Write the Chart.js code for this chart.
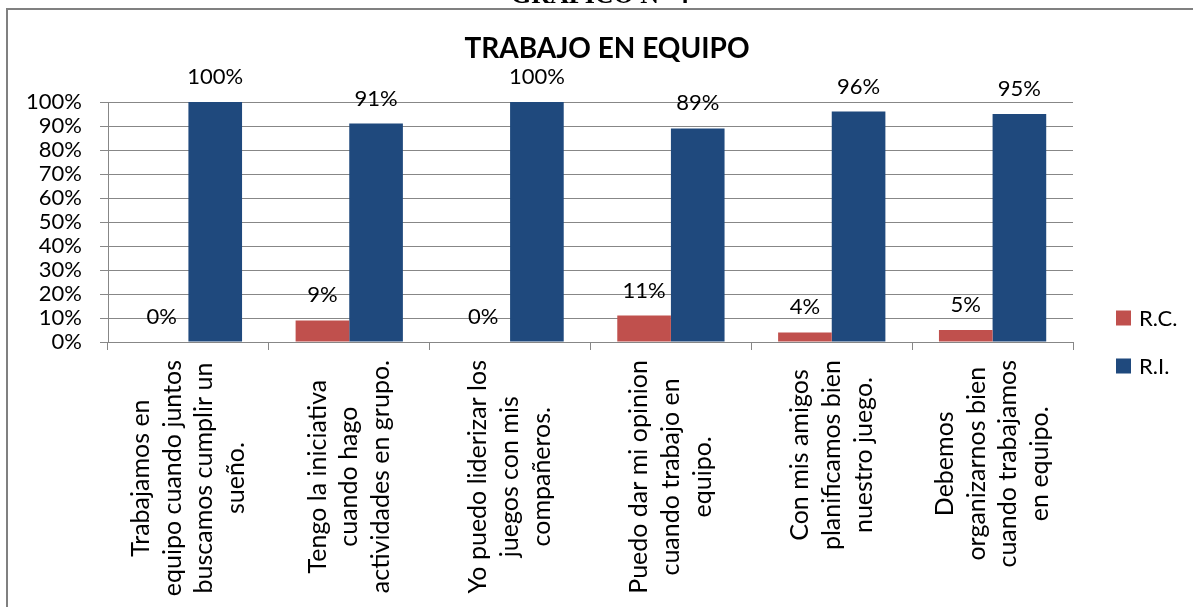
<!DOCTYPE html>
<html><head><meta charset="utf-8">
<script src="https://cdn.jsdelivr.net/npm/chart.js@4.4.0/dist/chart.umd.min.js"></script>
<style>html,body{margin:0;padding:0;background:#fff;}#wrap{width:1193px;height:607px;position:relative;}</style>
</head><body><div id="wrap"><canvas id="c" width="1193" height="607"></canvas></div>
<script>
const heading = "GRAFICO N° 4";
const chartTitle = "TRABAJO EN EQUIPO";
const categories = [
  ["Trabajamos en", "equipo cuando juntos", "buscamos cumplir un", "sueño."],
  ["Tengo la iniciativa", "cuando hago", "actividades en grupo."],
  ["Yo puedo liderizar los", "juegos con mis", "compañeros."],
  ["Puedo dar mi opinion", "cuando trabajo en", "equipo."],
  ["Con mis amigos", "planificamos bien", "nuestro juego."],
  ["Debemos", "organizarnos bien", "cuando trabajamos", "en equipo."]
];
const seriesNames = ["R.C.", "R.I."];
const rcValues = [0, 9, 0, 11, 4, 5];
const riValues = [100, 91, 100, 89, 96, 95];
const yTickValues = [0, 10, 20, 30, 40, 50, 60, 70, 80, 90, 100];

const RED = '#C0504D', BLUE = '#1F497D', GRID = '#878787';
const FONT = 'Lato';

const decor = {
  id: 'decor',
  afterDraw(chart) {
    const ctx = chart.ctx;
    const xs = chart.scales.x, ys = chart.scales.y;
    ctx.save();
    ctx.strokeStyle = '#808080'; ctx.lineWidth = 2;
    ctx.strokeRect(7, 9, 1300, 800);
    ctx.fillStyle = '#000';
    ctx.font = 'bold 26px "Liberation Serif"';
    ctx.textAlign = 'center'; ctx.textBaseline = 'alphabetic';
    ctx.fillText(heading, 600, 3);
    ctx.font = 'bold 28px ' + FONT;
    ctx.fillText(chartTitle, 607, 58);
    ctx.font = '22px ' + FONT;
    chart.data.datasets.forEach((ds, di) => {
      const meta = chart.getDatasetMeta(di);
      meta.data.forEach((bar, i) => {
        ctx.fillText(ds.data[i] + '%', bar.x, bar.y - 18);
      });
    });
    ctx.font = '25px ' + FONT;
    const lineGap = 31.7;
    categories.forEach((lines, i) => {
      const cx = xs.getPixelForValue(i);
      const maxW = Math.max(...lines.map(l => ctx.measureText(l).width));
      const cy = ys.bottom + 18 + maxW / 2;
      lines.forEach((line, j) => {
        const lx = cx + (j - (lines.length - 1) / 2) * lineGap;
        ctx.save();
        ctx.translate(lx, cy);
        ctx.rotate(-Math.PI / 2);
        ctx.textAlign = 'center'; ctx.textBaseline = 'middle';
        ctx.fillText(line, 0, 0);
        ctx.restore();
      });
    });
    ctx.font = '22px ' + FONT;
    ctx.textAlign = 'left'; ctx.textBaseline = 'middle';
    const legendY = [318, 366];
    chart.data.datasets.forEach((ds, di) => {
      ctx.fillStyle = ds.backgroundColor;
      ctx.fillRect(1116, legendY[di] - 7.5, 15, 15);
      ctx.fillStyle = '#000';
      ctx.fillText(ds.label, 1139, legendY[di] + 1);
    });
    ctx.restore();
  }
};

new Chart(document.getElementById('c'), {
  type: 'bar',
  data: {
    labels: categories,
    datasets: [
      { label: seriesNames[0], data: rcValues, backgroundColor: RED },
      { label: seriesNames[1], data: riValues, backgroundColor: BLUE }
    ]
  },
  options: {
    responsive: false,
    animation: false,
    layout: { padding: { top: 102, right: 120, left: 0, bottom: 0 } },
    plugins: { legend: { display: false }, title: { display: false }, tooltip: { enabled: false } },
    datasets: { bar: { categoryPercentage: 0.667, barPercentage: 1.0 } },
    scales: {
      x: {
        grid: { display: true, drawOnChartArea: false, drawTicks: true, tickLength: 8, color: GRID, offset: true },
        border: { display: true, color: GRID, width: 1 },
        ticks: { display: false },
        afterFit(scale) { scale.height = 607 - 342; }
      },
      y: {
        min: 0, max: 100,
        afterBuildTicks(scale) { scale.ticks = yTickValues.map(v => ({ value: v })); },
        grid: { color: GRID, tickLength: 8, drawTicks: true },
        border: { display: true, color: GRID, width: 1 },
        ticks: { color: '#000', padding: 18, autoSkip: false, font: { family: FONT, size: 22 }, callback: v => v + '%' },
        afterFit(scale) { scale.width = 108; }
      }
    }
  },
  plugins: [decor]
});
</script></body></html>
